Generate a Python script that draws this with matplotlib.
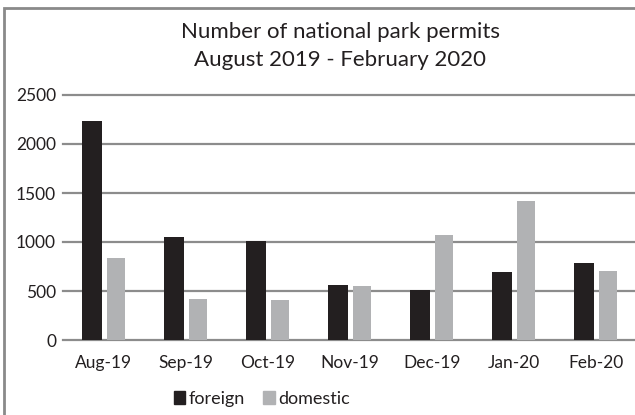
import numpy as np
import matplotlib.pyplot as plt
from matplotlib.patches import Patch, Rectangle

months = ['Aug-19', 'Sep-19', 'Oct-19', 'Nov-19', 'Dec-19', 'Jan-20', 'Feb-20']
foreign = [2230, 1050, 1015, 560, 510, 695, 790]
domestic = [840, 420, 410, 550, 1070, 1420, 700]
yticks = [0, 500, 1000, 1500, 2000, 2500]

dark = '#231f20'
light = '#b1b2b4'
grid_col = '#8c8c8c'

plt.rcParams['font.family'] = ['Lato', 'DejaVu Sans']

W, H = 635, 415
fig = plt.figure(figsize=(W / 100, H / 100), dpi=100)
ax = fig.add_axes([63 / W, 75 / H, 574 / W, 245 / H])

x = np.arange(len(months))
ax.bar(x - 0.143, foreign, width=0.245, color=dark, zorder=3)
ax.bar(x + 0.148, domestic, width=0.225, color=light, zorder=3)

ax.set_xlim(-0.5, len(months) - 0.5)
ax.set_ylim(0, 2500)
ax.set_yticks(yticks)
ax.set_xticks(x)
ax.set_xticklabels(months)
for t in yticks:
    ax.axhline(t, color=grid_col, lw=1.6, zorder=1, clip_on=False)
for s in ax.spines.values():
    s.set_visible(False)
ax.tick_params(axis='both', length=0, labelsize=12.5, colors='#231f20')
ax.tick_params(axis='y', pad=5)
ax.tick_params(axis='x', pad=11)

fig.text(340 / W, 1 - 32 / H, 'Number of national park permits', ha='center', va='center',
         fontsize=16, color='#231f20')
fig.text(340 / W, 1 - 60 / H, 'August 2019 - February 2020', ha='center', va='center',
         fontsize=16, color='#231f20')

handles = [Patch(color=dark, label='foreign'), Patch(color=light, label='domestic')]
fig.legend(handles=handles, loc='center', bbox_to_anchor=(262 / W, 1 - 399 / H), ncol=2,
           frameon=False, fontsize=13, handlelength=0.65, handleheight=0.75,
           handletextpad=0.2, columnspacing=1.0, labelcolor='#231f20')

# chart border
fig.patches.append(Rectangle((4 / W, -0.1), 1.2, 1.1 - 8 / H, transform=fig.transFigure,
                             fill=False, edgecolor='#8a8a8a', lw=2, clip_on=False))

fig.savefig('out.png', dpi=100)
